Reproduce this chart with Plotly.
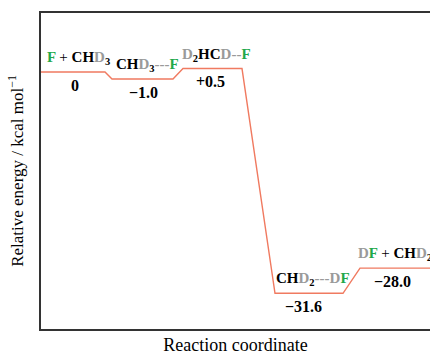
import plotly.graph_objects as go

# Data
energies = [0.0, -1.0, 0.5, -31.6, -28.0]
value_labels = ["0", "\u22121.0", "+0.5", "\u221231.6", "\u221228.0"]
# reaction coordinate extents of each level (start, end)
level_start = [4, 71, 142, 234, 319]
level_end = [64, 132, 201, 302, 400]

G = "#22a84a"   # fluorine green
D = "#9a9a9a"   # deuterium gray

def c(t, col):
    return f"<span style='color:{col}'>{t}</span>"

species = [
    f"{c('F', G)} <span style='font-weight:normal'>+</span> CH{c('D', D)}<sub>3</sub>",
    f"CH{c('D', D)}<sub>3</sub>{c('---', D)}{c('F', G)}",
    f"{c('D', D)}<sub>2</sub>HC{c('D', D)}{c('--', D)}{c('F', G)}",
    f"CH{c('D', D)}<sub>2</sub>{c('---', D)}{c('D', D)}{c('F', G)}",
    f"{c('D', D)}{c('F', G)} <span style='font-weight:normal'>+</span> CH{c('D', D)}<sub>2</sub>",
]
label_x = [78, 147, 216, 313, 356]
value_x = [75, 143, 210, 303, 392]

# build the profile path
xs, ys = [], []
for s, e, en in zip(level_start, level_end, energies):
    xs += [s, e]
    ys += [en, en]
xs = [0] + xs
ys = [energies[0]] + ys

fig = go.Figure()
fig.add_trace(go.Scatter(x=xs, y=ys, mode="lines",
                         line=dict(color="#F07A60", width=1.4),
                         hoverinfo="skip", showlegend=False, cliponaxis=True))

SERIF = "Liberation Serif"
font_s = dict(family=SERIF, size=15, color="black")
font_v = dict(family=SERIF, size=16, color="black")
for i, (en, sp, vl) in enumerate(zip(energies, species, value_labels)):
    lx = label_x[i] - 41
    if i < 4:
        fig.add_annotation(x=lx, y=en, text=f"<b>{sp}</b>", showarrow=False,
                           yshift=14, font=font_s)
    else:
        fig.add_annotation(x=lx, y=en, text=f"<b>{sp}</b>", showarrow=False,
                           yshift=14, xanchor="left", font=font_s)
    fig.add_annotation(x=value_x[i] - 41, y=en, text=f"<b>{vl}</b>", showarrow=False,
                       yshift=-13, font=font_v)

axis_common = dict(showgrid=False, zeroline=False, showticklabels=False, ticks="",
                   showline=True, linecolor="#333333", linewidth=1.6, automargin=False)
fig.update_layout(
    width=430, height=356,
    margin=dict(l=41, r=0, t=13, b=27, autoexpand=False),
    plot_bgcolor="white", paper_bgcolor="white",
    font=dict(family=SERIF),
    xaxis=dict(range=[0, 389], mirror=True, **axis_common,
               title=dict(text="Reaction coordinate", standoff=9,
                          font=dict(family=SERIF, size=18, color="black"))),
    yaxis=dict(range=[-36.7, 8.43], mirror=False, **axis_common,
               title=dict(text="Relative energy / kcal mol<sup>\u22121</sup>", standoff=11,
                          font=dict(family=SERIF, size=17, color="black"))),
)

fig.write_html("out.html",
               config={"displayModeBar": False, "staticPlot": True},
               post_script="document.body.style.margin='0';document.body.style.overflow='hidden';")
